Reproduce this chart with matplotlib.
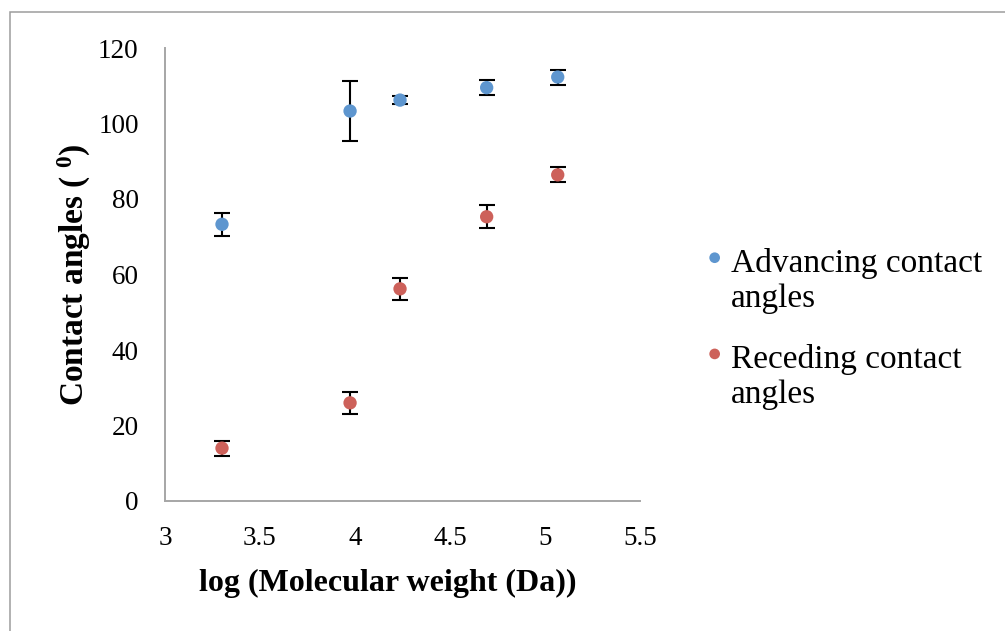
import matplotlib
matplotlib.use('Agg')
import matplotlib.pyplot as plt
from matplotlib.patches import Rectangle
from matplotlib.ticker import FuncFormatter, MultipleLocator

plt.rcParams['font.family'] = ['Liberation Serif', 'DejaVu Serif']
plt.rcParams['mathtext.fontset'] = 'custom'
plt.rcParams['mathtext.rm'] = 'Liberation Serif'
plt.rcParams['mathtext.bf'] = 'Liberation Serif:bold'

# log (molecular weight) of the samples
log_mw = [3.30, 3.974, 4.237, 4.693, 5.067]

advancing = [73.3, 103.3, 106.2, 109.5, 112.3]
advancing_err = [3.0, 8.0, 1.1, 2.0, 2.0]

receding = [14.0, 26.0, 56.2, 75.3, 86.4]
receding_err = [2.0, 3.0, 3.0, 3.0, 2.0]

series_names = ['Advancing contact\nangles', 'Receding contact\nangles']
colors = ['#5E96CF', '#CD615A']

fig = plt.figure(figsize=(10.05, 6.31), dpi=100)
ax = fig.add_axes([165 / 1005, 1 - 501 / 631, 475 / 1005, 453 / 631])

# chart border like the excel chart area
fig.patches.append(Rectangle((10 / 1005, -0.1), 1.2, 1.1 - 12 / 631,
                             transform=fig.transFigure, fill=False,
                             edgecolor='#9C9C9C', lw=1.1, zorder=0))

handles = []
for y, err, c, name in zip([advancing, receding], [advancing_err, receding_err],
                           colors, series_names):
    ax.errorbar(log_mw, y, yerr=err, fmt='none', ecolor='black',
                elinewidth=1.5, capsize=5.6, capthick=1.5, zorder=2)
    h = ax.scatter(log_mw, y, s=9.6 ** 2, color=c, zorder=3, label=name,
                   edgecolors='none')
    handles.append(h)

ax.set_xlim(3, 5.5)
ax.set_ylim(0, 120)
ax.xaxis.set_major_locator(MultipleLocator(0.5))
ax.yaxis.set_major_locator(MultipleLocator(20))
ax.xaxis.set_major_formatter(FuncFormatter(lambda v, p: '%g' % v))
ax.tick_params(length=0, labelsize=19.5)
ax.tick_params(axis='y', pad=19)
ax.tick_params(axis='x', pad=18)
for s in ['top', 'right']:
    ax.spines[s].set_visible(False)
for s in ['left', 'bottom']:
    ax.spines[s].set_color('#A6A6A6')
    ax.spines[s].set_linewidth(1.4)

ax.set_xlabel('log (Molecular weight (Da))', fontsize=23, fontweight='bold')
ax.set_ylabel(r'Contact angles ( $\mathbf{^{0}}$)', fontsize=24, fontweight='bold')
ax.xaxis.set_label_coords(0.469, -0.15)
ax.yaxis.set_label_coords(-0.151, 0.5)

leg = ax.legend(handles=handles, loc='upper left', bbox_to_anchor=(708 / 1005, 1 - 248 / 631),
                bbox_transform=fig.transFigure, frameon=False, fontsize=24,
                markerscale=0.8, handlelength=0.4, handletextpad=0.3,
                labelspacing=0.9, borderpad=0, borderaxespad=0)
for h in leg.legend_handles:
    off = h.get_offsets()
    off[:, 1] += 19
    h.set_offsets(off)

fig.savefig('out.png', dpi=100)
